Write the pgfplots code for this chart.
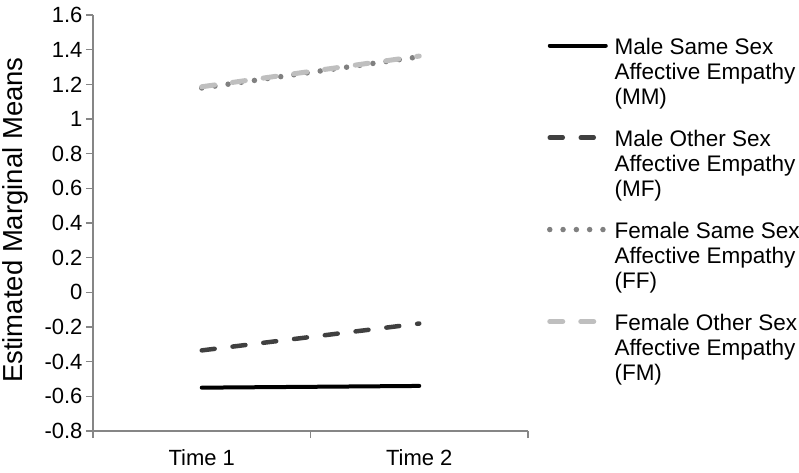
\documentclass[border=0pt]{standalone}
\usepackage{pgfplots}
\pgfplotsset{compat=1.18}
\usepackage{fontspec}
\setmainfont{Liberation Sans}
\definecolor{axgray}{RGB}{134,134,134}
\definecolor{mfgray}{RGB}{64,64,64}
\definecolor{ffgray}{RGB}{128,128,128}
\definecolor{fmgray}{RGB}{191,191,191}
\pgfplotsset{mylegline/.style={legend image code/.code={\draw[##1] (2pt,9pt)--(58pt,9pt);}}}
\begin{document}
\begin{tikzpicture}
\path[use as bounding box] (-93pt,-41pt) rectangle (706pt,431pt);
\begin{axis}[
  at={(0pt,0pt)}, anchor=south west,
  scale only axis, width=435pt, height=416pt,
  xmin=-0.5, xmax=1.5, ymin=-0.8, ymax=1.6,
  axis lines*=left,
  axis line style={axgray, line width=1.3pt},
  xtick={-0.5,0.5,1.5}, x tick label as interval,
  xticklabels={Time 1, Time 2},
  ytick={-0.8,-0.6,-0.4,-0.2,0,0.2,0.4,0.6,0.8,1,1.2,1.4,1.6},
  yticklabels={-0.8,-0.6,-0.4,-0.2,0,0.2,0.4,0.6,0.8,1,1.2,1.4,1.6},
  tick align=outside, major tick length=7pt,
  tick style={axgray, line width=1.3pt},
  tick label style={font=\fontsize{22}{24}\selectfont},
  xticklabel style={yshift=-8pt},
  ylabel={Estimated Marginal Means},
  ylabel style={font=\fontsize{27.5}{30}\selectfont, at={(axis description cs:-0.1790,0.507)}, anchor=center},
  clip=false,
  legend style={draw=none, fill=none, at={(axis description cs:1.0437,0.947)}, anchor=north west,
    inner sep=0pt, outer sep=0pt, font=\fontsize{22.5}{25}\selectfont,
    row sep=17pt, column sep=6pt, nodes={inner sep=0pt, text depth=}, cells={anchor=base west}},
]
\addplot[black, line width=4pt, line cap=round, mylegline] coordinates {(0,-0.55) (1,-0.54)};
\addlegendentry{\begin{tabular}[t]{@{}l@{}}Male Same Sex\\Affective Empathy\\(MM)\end{tabular}}
\addplot[mfgray, line width=4.5pt, line cap=round, dash pattern=on 13pt off 18pt, mylegline] coordinates {(0,-0.335) (1,-0.18)};
\addlegendentry{\begin{tabular}[t]{@{}l@{}}Male Other Sex\\Affective Empathy\\(MF)\end{tabular}}
\addplot[ffgray, line width=5.5pt, line cap=round, dash pattern=on 0pt off 13.3pt, mylegline] coordinates {(0,1.179) (1,1.359)};
\addlegendentry{\begin{tabular}[t]{@{}l@{}}Female Same Sex\\Affective Empathy\\(FF)\end{tabular}}
\addplot[fmgray, line width=5pt, line cap=round, dash pattern=on 13pt off 18pt, mylegline] coordinates {(0,1.186) (1,1.363)};
\addlegendentry{\begin{tabular}[t]{@{}l@{}}Female Other Sex\\Affective Empathy\\(FM)\end{tabular}}
\end{axis}
\end{tikzpicture}
\end{document}
